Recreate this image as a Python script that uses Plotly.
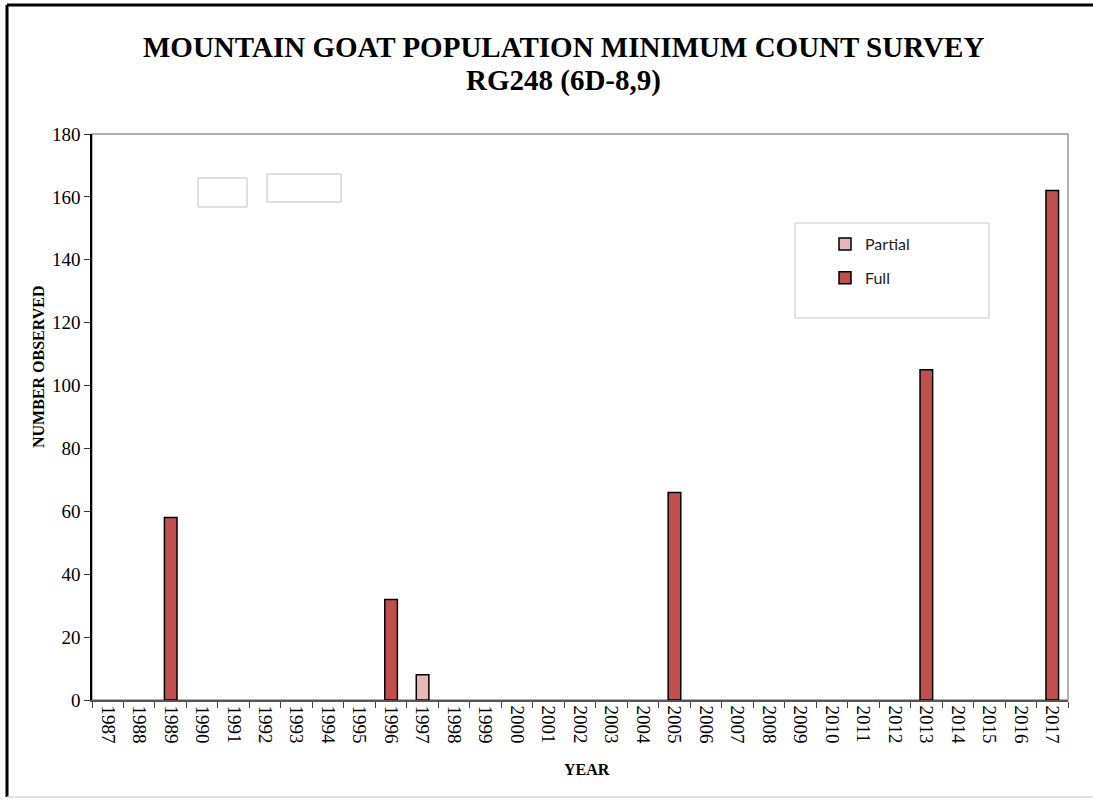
import plotly.graph_objects as go

# Survey years shown on the axis
years = list(range(1987, 2018))

# Full surveys
full_years = [1989, 1996, 2005, 2013, 2017]
full_counts = [58, 32, 66, 105, 162]

# Partial surveys
partial_years = [1997]
partial_counts = [8]

y_ticks = list(range(0, 181, 20))

SERIF = "Liberation Serif"
FULL_COLOR = "#C0504D"
PARTIAL_COLOR = "#E6B9B8"

# plot area in pixels, used to place the free-floating elements
L, R, T, B = 92, 1068, 134, 700
W, H = R - L, B - T


def px(xp):
    return (xp - L) / W


def py(yp):
    return (B - yp) / H


fig = go.Figure()

fig.add_trace(go.Bar(
    x=partial_years, y=partial_counts, name="Partial", width=0.4,
    marker=dict(color=PARTIAL_COLOR, line=dict(color="black", width=1.5)),
    legendgroup="p",
))
fig.add_trace(go.Bar(
    x=full_years, y=full_counts, name="Full", width=0.4,
    marker=dict(color=FULL_COLOR, line=dict(color="black", width=1.5)),
    legendgroup="f",
))

x_range = [years[0] - 0.5, years[-1] + 0.5]

fig.update_layout(
    width=1093, height=800,
    margin=dict(l=L, r=1093 - R, t=T, b=800 - B),
    paper_bgcolor="white", plot_bgcolor="white",
    barmode="overlay",
    showlegend=True,
    legend=dict(
        x=px(825), y=py(227), xanchor="left", yanchor="top",
        bgcolor="rgba(0,0,0,0)", borderwidth=0,
        font=dict(family="Lato", size=16, color="#222"),
        traceorder="grouped", tracegroupgap=10,
    ),
    xaxis=dict(
        range=x_range, tickmode="array", tickvals=years,
        ticktext=[str(y) for y in years], tickangle=90,
        ticks="", showgrid=False, zeroline=False,
        showline=True, linecolor="#555", linewidth=1.5,
        tickfont=dict(family=SERIF, size=19, color="black"),
        minor=dict(ticks="outside", tick0=years[0] - 0.5, dtick=1,
                   ticklen=6, tickcolor="#444", tickwidth=1, showgrid=False),
    ),
    yaxis=dict(
        range=[0, 180], tickvals=y_ticks, ticks="outside", ticklen=6,
        tickcolor="#333", tickwidth=1, showgrid=False, zeroline=False,
        showline=True, linecolor="black", linewidth=1.5,
        tickfont=dict(family=SERIF, size=19, color="black"),
    ),
    # companion axes that draw the inner half of each tick mark
    xaxis2=dict(
        overlaying="x", anchor="y", range=x_range, side="bottom",
        tickmode="linear", tick0=years[0] - 0.5, dtick=1,
        ticks="inside", ticklen=6, tickcolor="#444", tickwidth=1,
        showticklabels=False, showgrid=False, zeroline=False, showline=False,
    ),
    yaxis2=dict(
        overlaying="y", anchor="x", range=[0, 180], side="left",
        tickmode="array", tickvals=y_ticks,
        ticks="inside", ticklen=6, tickcolor="#333", tickwidth=1,
        showticklabels=False, showgrid=False, zeroline=False, showline=False,
    ),
)

shapes = [
    # gray plot-area border (top / right)
    dict(type="rect", xref="paper", yref="paper", x0=0, x1=1, y0=0, y1=1,
         line=dict(color="#9a9a9a", width=1.5), layer="below"),
    # legend frame
    dict(type="rect", xref="paper", yref="paper", x0=px(795), x1=px(989),
         y0=py(318), y1=py(223), line=dict(color="#c8c8c8", width=1), layer="below"),
    # two empty text boxes
    dict(type="rect", xref="paper", yref="paper", x0=px(198), x1=px(247),
         y0=py(207), y1=py(178), line=dict(color="#c0c0c0", width=1)),
    dict(type="rect", xref="paper", yref="paper", x0=px(267), x1=px(341),
         y0=py(202), y1=py(174), line=dict(color="#c0c0c0", width=1)),
    # outer chart frame
    dict(type="line", xref="paper", yref="paper", x0=px(7), x1=px(7),
         y0=py(797), y1=py(5), line=dict(color="black", width=3)),
    dict(type="line", xref="paper", yref="paper", x0=px(7), x1=px(1100),
         y0=py(5), y1=py(5), line=dict(color="black", width=3)),
    dict(type="line", xref="paper", yref="paper", x0=px(7), x1=px(1100),
         y0=py(797), y1=py(797), line=dict(color="#d8d8d8", width=1.5)),
]
fig.update_layout(shapes=shapes)

title_lines = ["MOUNTAIN GOAT POPULATION MINIMUM COUNT SURVEY", "RG248 (6D-8,9)"]
for line, yc in zip(title_lines, [47, 80]):
    fig.add_annotation(
        text=f"<b>{line}</b>", xref="paper", yref="paper",
        x=px(563), y=py(yc), xanchor="center", yanchor="middle",
        showarrow=False, font=dict(family=SERIF, size=29, color="black"),
    )

fig.add_annotation(
    text="<b>NUMBER OBSERVED</b>", textangle=-90,
    xref="paper", yref="paper", x=px(38), y=py(367),
    xanchor="center", yanchor="middle", showarrow=False,
    font=dict(family=SERIF, size=16, color="black"),
)
fig.add_annotation(
    text="<b>YEAR</b>",
    xref="paper", yref="paper", x=px(587), y=py(769),
    xanchor="center", yanchor="middle", showarrow=False,
    font=dict(family=SERIF, size=16, color="black"),
)

fig.write_html("out.html")
